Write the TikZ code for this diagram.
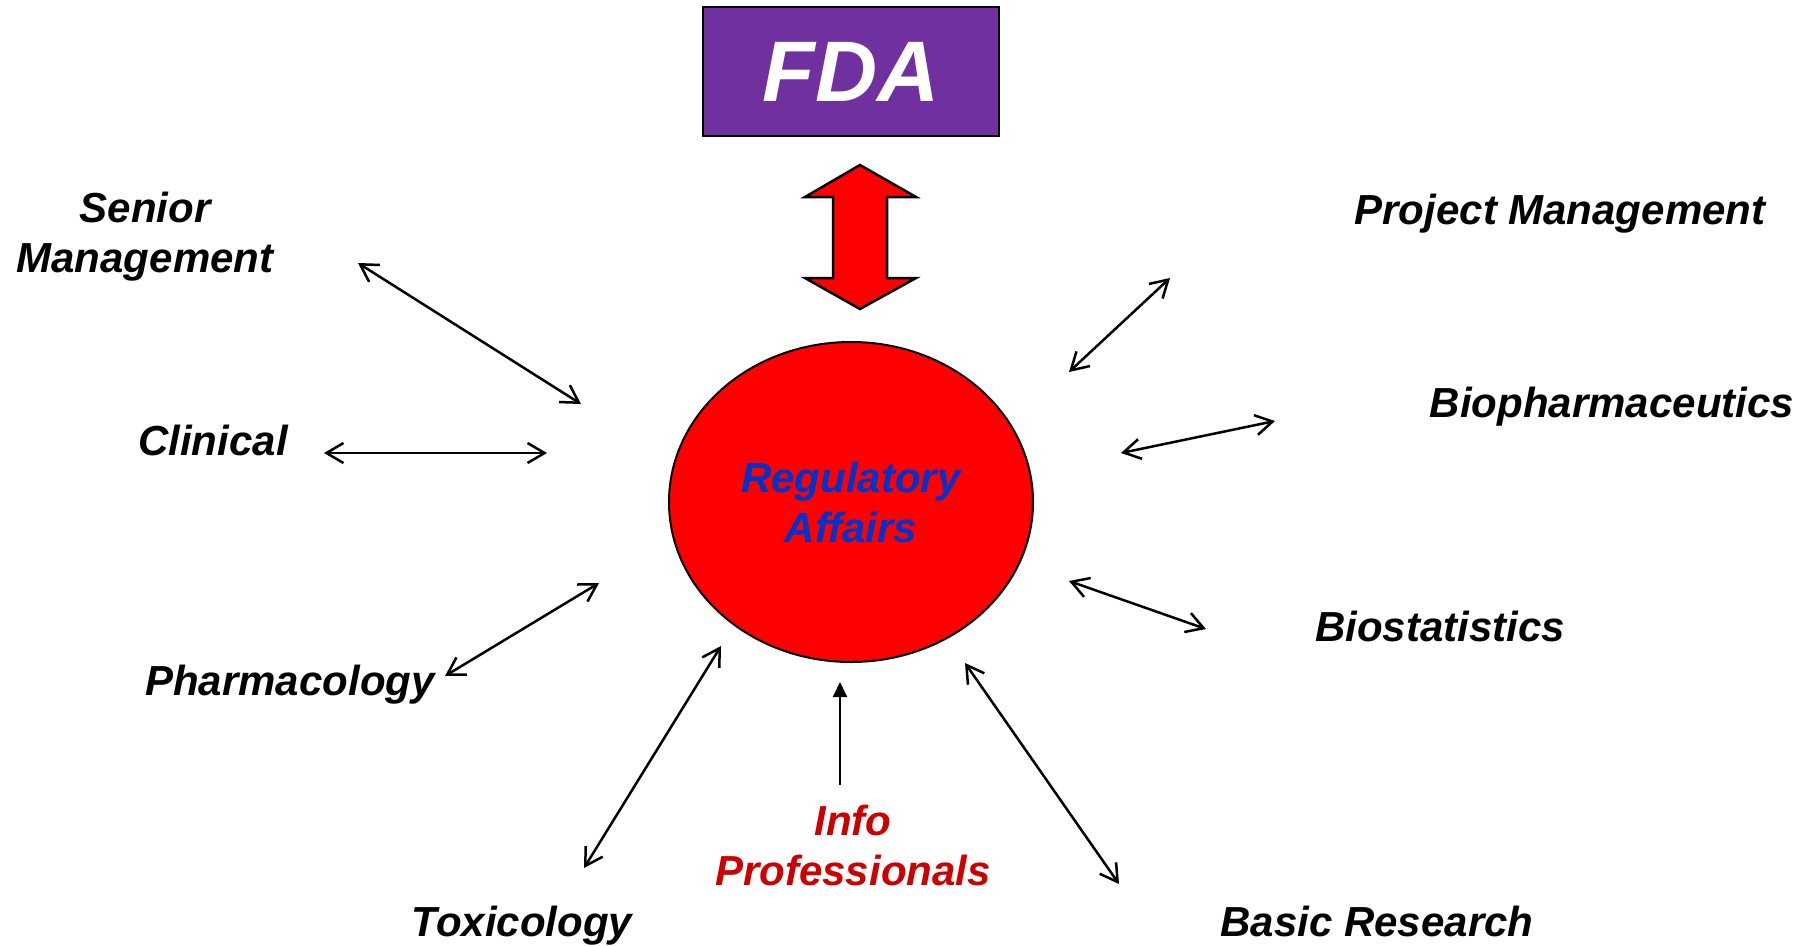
\documentclass[tikz,border=0pt]{standalone}
\usepackage{fontspec}
\setmainfont{Liberation Sans}
\usetikzlibrary{arrows.meta,shapes.geometric}
\definecolor{fdapurple}{HTML}{7030A0}
\definecolor{rared}{HTML}{FF0000}
\definecolor{rablue}{HTML}{0033CC}
\definecolor{infored}{HTML}{CC0000}
\begin{document}
\begin{tikzpicture}[x=1pt,y=-1pt,
  lbl/.style={font=\fontsize{42}{50}\selectfont\bfseries\itshape, inner sep=0pt, align=center},
  link/.style={line width=2.5pt, {Straight Barb[length=17pt,width=20pt]}-{Straight Barb[length=17pt,width=20pt]}},
  feed/.style={line width=2.2pt, -{Triangle[length=15pt,width=14pt]}}]
\useasboundingbox (0,0) rectangle (1812,946);
\fill[white] (0,0) rectangle (1812,946);

% FDA box
\node[draw=black, line width=2.5pt, fill=fdapurple, minimum width=296pt, minimum height=129pt, inner sep=0pt,
      text=white, font=\fontsize{86}{90}\selectfont\bfseries\itshape] (fda) at (851,71.5) {FDA};

% big double arrow
\draw[line width=2.5pt, fill=rared, line join=miter] (860,165) -- (916,197) -- (887,197) -- (887,278) -- (916,278)
   -- (860,309) -- (805,278) -- (833,278) -- (833,197) -- (805,197) -- cycle;

% central ellipse
\node[ellipse, draw=black, line width=2pt, fill=rared, minimum width=364pt, minimum height=320pt, inner sep=0pt,
      lbl, text=rablue] (ra) at (851,502) {Regulatory\\Affairs};

% labels
\node[lbl, anchor=base] (senior) at (145,272) {Senior\\Management};
\node[lbl, anchor=base] (clinical) at (213,455) {Clinical};
\node[lbl, anchor=base] (pharm) at (290,695) {Pharmacology};
\node[lbl, anchor=base] (tox) at (522,936) {Toxicology};
\node[lbl, anchor=base, text=infored] (info) at (853,885) {Info\\Professionals};
\node[lbl, anchor=base] (basic) at (1377,936) {Basic Research};
\node[lbl, anchor=base] (biostat) at (1440,641) {Biostatistics};
\node[lbl, anchor=base] (biopharm) at (1612,417) {Biopharmaceutics};
\node[lbl, anchor=base] (pm) at (1560,224) {Project Management};

% arrow end points
\coordinate (sm1) at (358,263);  \coordinate (sm2) at (581,404);
\coordinate (cl1) at (324,453);  \coordinate (cl2) at (547,453);
\coordinate (ph1) at (445,676);  \coordinate (ph2) at (599,583);
\coordinate (tx1) at (584,868);  \coordinate (tx2) at (721,646);
\coordinate (in1) at (840,785);  \coordinate (in2) at (840,682);
\coordinate (br1) at (1119,884); \coordinate (br2) at (965,663);
\coordinate (bs1) at (1206,629); \coordinate (bs2) at (1069,581);
\coordinate (bp1) at (1275,421); \coordinate (bp2) at (1121,453);
\coordinate (pm1) at (1170,278); \coordinate (pm2) at (1069,372);

\draw[link] (sm1) -- (sm2);
\draw[link] (cl1) -- (cl2);
\draw[link] (ph1) -- (ph2);
\draw[link] (tx1) -- (tx2);
\draw[feed] (in1) -- (in2);
\draw[link] (br1) -- (br2);
\draw[link] (bs1) -- (bs2);
\draw[link] (bp1) -- (bp2);
\draw[link] (pm1) -- (pm2);
\end{tikzpicture}
\end{document}
